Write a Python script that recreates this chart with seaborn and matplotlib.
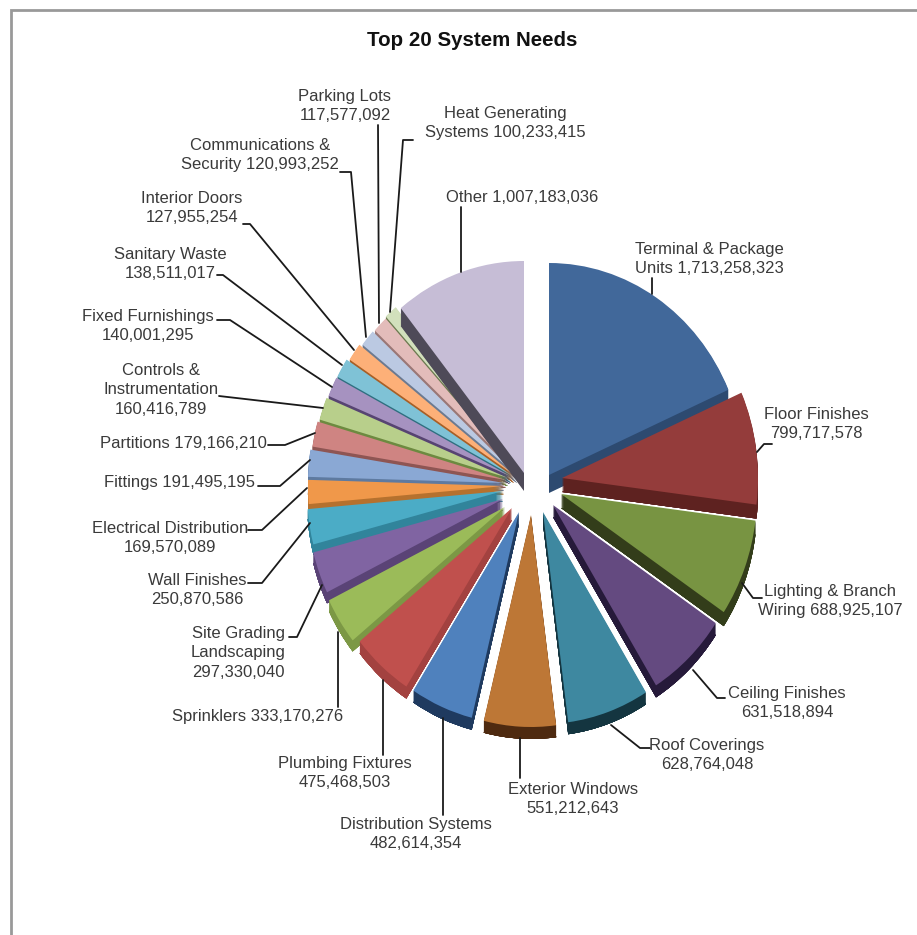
import matplotlib
matplotlib.use("Agg")
import matplotlib.pyplot as plt
import seaborn as sns

sns.set_theme(style="white")
plt.rcParams['font.family'] = ['Liberation Sans', 'DejaVu Sans']

# Capital needs by building system, in dollars
systems = ["Terminal & Package\nUnits", "Floor Finishes\n", "Lighting & Branch\nWiring", "Ceiling Finishes\n",
           "Roof Coverings\n", "Exterior Windows\n", "Distribution Systems\n", "Plumbing Fixtures\n",
           "Sprinklers", "Site Grading\nLandscaping\n", "Wall Finishes\n", "Electrical Distribution\n",
           "Fittings", "Partitions", "Controls &\nInstrumentation\n", "Fixed Furnishings\n",
           "Sanitary Waste\n", "Interior Doors\n", "Communications &\nSecurity", "Parking Lots\n",
           "Heat Generating\nSystems", "Other"]
needs = [1713258323, 799717578, 688925107, 631518894,
         628764048, 551212643, 482614354, 475468503,
         333170276, 297330040, 250870586, 169570089,
         191495195, 179166210, 160416789, 140001295,
         138511017, 127955254, 120993252, 117577092,
         100233415, 1007183036]

top_colors = ["#41689A", "#943C3B", "#789442", "#644A80", "#3E88A0", "#BD7736",
              "#4F81BD", "#C0504D", "#9BBB59", "#8064A2", "#4BACC6", "#F0984A",
              "#8AA8D4", "#CF8482", "#B8CF8B", "#A692C0", "#7FC2D6", "#FDB078",
              "#BBC9E2", "#E3BCBA", "#D2E0BC", "#C6BDD6"]
side_colors = ["#2D4A70", "#5E2220", "#333D1A", "#261A3A", "#143540", "#4E2A10",
               "#1F3A5F", "#A34240", "#7C9845", "#5A4376", "#31849B", "#B5712E",
               "#5E7AA0", "#8E5553", "#6D8A40", "#574472", "#2F6F80", "#A85F26",
               "#6C7A90", "#9A7776", "#6C7A50", "#4E4A58"]

# Exploded tip of each slice and its extrusion depth, in pixels
tips = [(549, 475), (562, 478), (561, 494), (553, 505), (543, 512), (531, 515),
        (519, 512), (512, 508), (505, 507), (503, 499), (503, 491), (504, 486),
        (504, 483), (506, 480), (508, 478), (510, 476), (511, 475), (514, 475),
        (517, 475), (519, 474), (519, 472), (524, 473)]
depths = [18, 14, 14, 12, 12, 12, 12, 12, 11, 11, 10, 8,
          8, 8, 8, 8, 8, 8, 8, 8, 10, 18]

RX, RY = 196, 212
W, H = 917, 935
OTHER = systems.index("Other")

fig = plt.figure(figsize=(W / 100, H / 100), dpi=100, facecolor="white")
ax = fig.add_axes([0, 0, 1, 1])


def draw_layer(colors, drop, order_shift):
    wedges, _ = ax.pie(needs, colors=colors, startangle=90, counterclock=False,
                       radius=1, wedgeprops={"linewidth": 0})
    for i, (wedge, (tx, ty), depth) in enumerate(zip(wedges, tips, depths)):
        mid = (90 - (wedge.theta1 + wedge.theta2) / 2) % 360
        shift = min(drop, depth)
        wedge.set_center((tx / RX, -(ty + shift) / RY))
        # The large back slice casts its wall over the thin neighbours beside it
        rank = 140 if i == OTHER else min(mid, 360 - mid)
        wedge.set_zorder(rank + order_shift)


# Side walls are stacked copies of the slices, stepping down to the full depth
for drop in range(max(depths), 0, -1):
    draw_layer(side_colors, drop, 0)
draw_layer(top_colors, 0, 0.5)

ax.set_aspect("auto")
ax.set_xlim(0, W / RX)
ax.set_ylim(-H / RY, 0)
ax.axis("off")

# Overlay in pixel units for the border, title, labels and leader lines
lay = fig.add_axes([0, 0, 1, 1])
lay.patch.set_alpha(0)
lay.set_xlim(0, W)
lay.set_ylim(H, 0)
lay.axis("off")

lay.plot([11, 11, W], [H, 10, 10], color="#999999", lw=2.0, solid_joinstyle="miter")
lay.text(472, 41, "Top 20 System Needs", ha="center", va="center",
         fontsize=14.8, fontweight="bold", color="#111111")

label_spots = [(709, 259), (816, 424), (830, 601), (787, 703),
               (707, 755), (573, 799), (416, 834), (345, 773),
               (258, 717), (238, 653), (197, 590), (170, 538),
               (180, 482), (183, 444), (161, 390), (148, 326),
               (170, 264), (192, 208), (260, 155), (345, 106),
               (505, 123), (522, 197)]
leaders = [[(652, 278), (652, 294)],
           [(757, 452), (764, 444), (772, 444)],
           [(742, 583), (753, 598), (762, 598)],
           [(693, 670), (717, 698), (725, 698)],
           [(611, 725), (640, 748), (650, 748)],
           [(520, 738), (520, 778)],
           [(443, 718), (443, 815)],
           [(383, 680), (383, 755)],
           [(338, 632), (338, 707)],
           [(322, 585), (297, 637), (289, 637)],
           [(310, 523), (262, 583), (248, 583)],
           [(307, 488), (262, 530), (248, 530)],
           [(310, 460), (280, 486), (258, 486)],
           [(315, 433), (285, 445), (268, 445)],
           [(323, 408), (219, 396)],
           [(332, 387), (230, 320), (217, 320)],
           [(342, 365), (223, 275), (217, 275)],
           [(354, 350), (250, 224), (243, 224)],
           [(366, 337), (351, 172), (340, 172)],
           [(379, 323), (378, 125)],
           [(390, 312), (403, 140), (413, 140)],
           [(461, 272), (461, 207)]]

for path in leaders:
    lay.plot([p[0] for p in path], [p[1] for p in path], color="#1a1a1a", lw=1.3)

for name, value, (cx, cy) in zip(systems, needs, label_spots):
    sep = "" if name.endswith("\n") else " "
    lay.text(cx, cy, f"{name}{sep}{value:,}", ha="center", va="center",
             multialignment="center", fontsize=12.0, color="#3a3a3a", linespacing=1.4)

fig.savefig("out.png", dpi=100, facecolor="white")
